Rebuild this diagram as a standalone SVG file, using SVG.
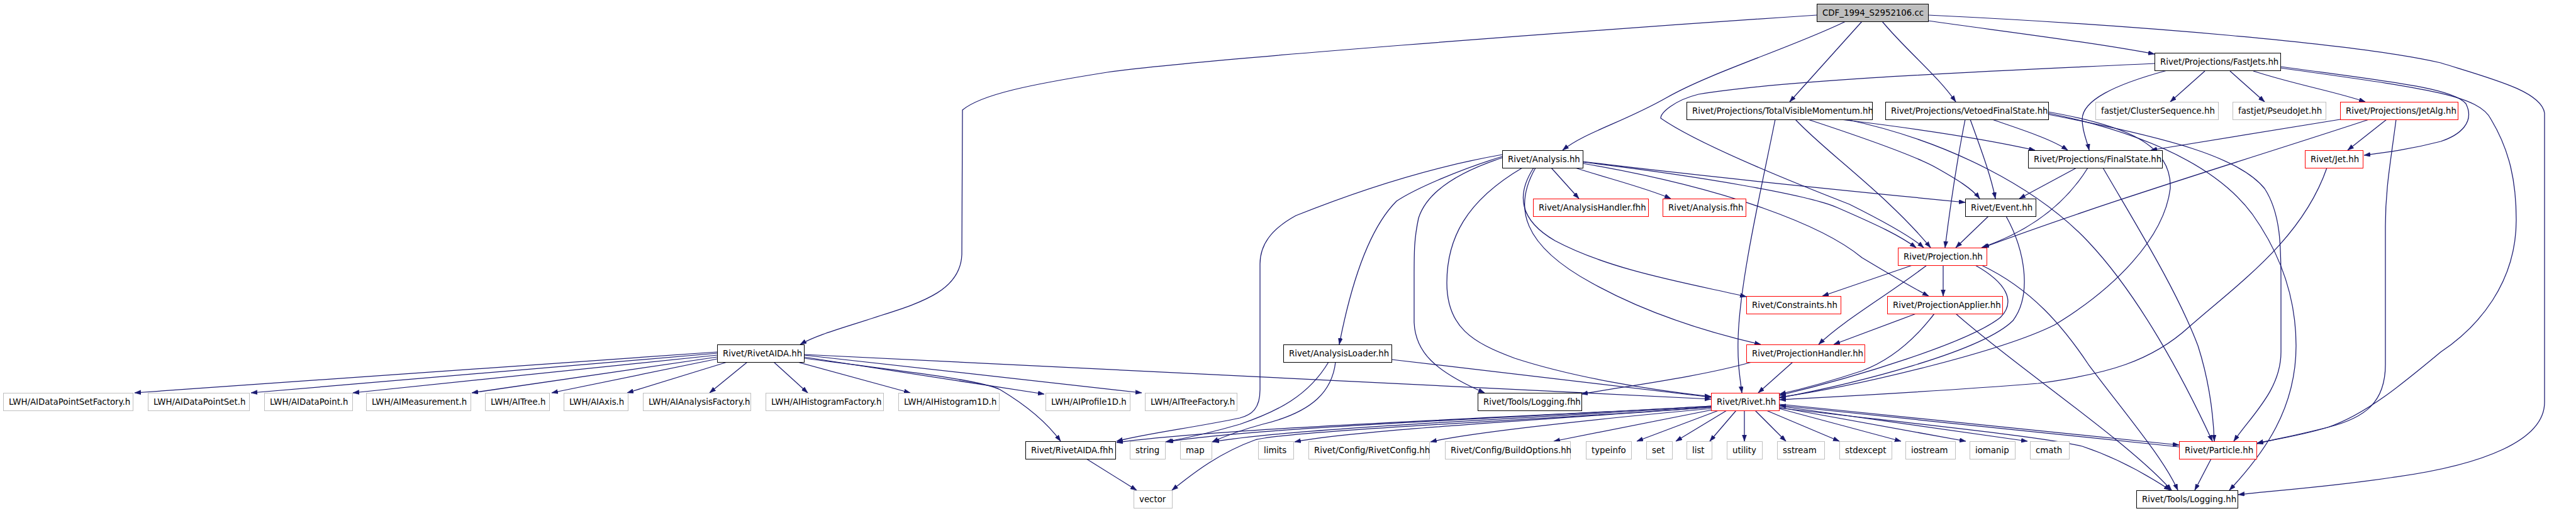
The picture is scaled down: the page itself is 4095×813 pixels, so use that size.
<svg xmlns="http://www.w3.org/2000/svg" width="4095" height="813" viewBox="0 0 4095 813">
<style>
.n rect{fill:#ffffff;stroke-width:1}
.k rect{stroke:#000000}
.r rect{stroke:#ff0000}
.g rect{stroke:#bfbfbf}
.n text{font-family:"DejaVu Sans","Liberation Sans",sans-serif;font-size:13.33px;fill:#000000}
.e path{fill:none;stroke:#191970;stroke-width:1.25;marker-end:url(#a)}
</style>
<defs>
<marker id="a" markerUnits="userSpaceOnUse" markerWidth="11" markerHeight="8" refX="10" refY="3.5" orient="auto">
<path d="M0,0 L10,3.5 L0,7 Z" fill="#191970" stroke="#191970" stroke-width="0.5"/>
</marker>
</defs>
<rect x="0" y="0" width="4095" height="813" fill="#ffffff"/>
<g id="edges" class="e">
<path d="M2888,24 C2500,50 1900,95 1760,115 C1640,134 1560,150 1530,175 L1529,405 C1527,460 1470,480 1400,502 C1340,522 1300,532 1272,548"/>
<path d="M2934,34 C2850,75 2720,115 2650,155 C2580,195 2520,210 2484,239"/>
<path d="M2960,34 L2845,162"/>
<path d="M2992,34 C3030,80 3080,120 3109,162"/>
<path d="M3065,33 C3200,52 3330,68 3425,86"/>
<path d="M3065,24 C3400,40 3750,70 3880,100 C3960,125 4040,145 4045,180 L4045,640 C4045,700 3950,740 3800,760 C3700,775 3620,780 3558,787"/>
<path d="M3425,101 C3200,112 2850,125 2700,150 C2660,160 2640,180 2640,188 C2700,230 2850,290 2940,325 C3000,355 3040,378 3058,394"/>
<path d="M3445,112 C3360,135 3310,160 3310,190 C3310,210 3318,225 3321,239"/>
<path d="M3505,113 L3450,162"/>
<path d="M3545,113 L3600,162"/>
<path d="M3582,113 C3650,135 3710,145 3760,162"/>
<path d="M3625,106 C3800,130 3900,140 3920,165 C3935,195 3910,215 3880,225 C3830,238 3790,243 3758,247"/>
<path d="M3625,108 C3850,140 3940,150 3960,190 C3990,240 4000,290 4000,350 C4000,450 3940,520 3880,560 C3820,610 3760,660 3700,680 C3650,695 3610,700 3588,705"/>
<path d="M3720,190 C3600,210 3500,225 3419,239"/>
<path d="M3766,190 C3600,245 3350,320 3152,394"/>
<path d="M3794,190 L3732,239"/>
<path d="M3809,190 C3800,260 3792,300 3792,360 L3792,580 C3792,640 3760,665 3700,680 C3640,695 3610,700 3588,706"/>
<path d="M3699,267 C3660,380 3560,450 3480,520 C3420,575 3350,595 3240,610 C3050,625 2900,632 2829,636"/>
<path d="M3040,422 L2897,471"/>
<path d="M3089,422 L3089,471"/>
<path d="M3063,422 C3000,470 2930,510 2891,548"/>
<path d="M3140,422 C3190,450 3205,480 3180,505 C3130,545 2950,600 2829,629"/>
<path d="M3150,422 C3230,460 3280,520 3320,580 C3380,660 3440,730 3462,780"/>
<path d="M3046,499 L2915,548"/>
<path d="M3075,499 C3040,545 3000,575 2960,590 C2900,610 2860,620 2829,627"/>
<path d="M3109,499 C3200,580 3380,700 3452,780"/>
<path d="M2850,576 L2795,625"/>
<path d="M2785,576 C2700,600 2580,615 2514,627"/>
<path d="M2466,267 L2510,316"/>
<path d="M2504,267 C2560,285 2620,300 2656,316"/>
<path d="M2516,257 C2700,280 2950,305 3124,322"/>
<path d="M2516,258 C2700,280 2874,310 2920,330 C2989,360 3020,375 3046,394"/>
<path d="M2516,260 C2750,300 2900,360 2960,410 C3010,440 3045,460 3066,471"/>
<path d="M2438,267 C2410,310 2415,350 2472,383 C2560,430 2680,450 2776,472"/>
<path d="M2441,267 C2405,330 2420,390 2530,450 C2620,500 2720,530 2799,548"/>
<path d="M2420,267 C2330,320 2300,380 2300,450 C2300,520 2340,545 2408,570 C2500,600 2620,620 2720,631"/>
<path d="M2388,251 C2330,270 2270,300 2255,347 C2248,380 2248,400 2248,440 L2248,513 C2250,560 2280,590 2360,625"/>
<path d="M2388,246 C2250,270 2130,315 2060,343 C2020,365 2003,390 2003,420 L2003,620 C2003,650 1990,660 1971,665 C1900,680 1820,690 1775,702"/>
<path d="M2388,249 C2320,270 2250,300 2220,320 C2180,360 2150,440 2129,548"/>
<path d="M2112,576 C2080,630 2030,655 1971,675 C1920,690 1880,698 1853,703"/>
<path d="M2123,576 C2118,620 2090,655 2007,675 C1970,685 1945,695 1927,703"/>
<path d="M2212,572 L2720,632"/>
<path d="M1140,560 L214,625"/>
<path d="M1140,562 L399,625"/>
<path d="M1140,565 L561,625"/>
<path d="M1140,568 L750,625"/>
<path d="M1140,571 L877,625"/>
<path d="M1156,576 L997,625"/>
<path d="M1188,576 L1128,625"/>
<path d="M1230,576 L1284,625"/>
<path d="M1268,576 L1447,625"/>
<path d="M1278,568 L1660,627"/>
<path d="M1278,565 L1815,625"/>
<path d="M1278,570 C1450,592 1560,605 1590,620 C1640,650 1670,680 1686,702"/>
<path d="M1278,564 L2720,635"/>
<path d="M1727,730 L1807,780"/>
<path d="M2720,646 C2400,665 1950,680 1775,704"/>
<path d="M2720,646 C2400,665 2000,680 1855,703"/>
<path d="M2720,647 C2400,667 2050,682 1928,703"/>
<path d="M2720,648 C2450,668 2150,685 2058,703"/>
<path d="M2720,648 C2450,668 2050,685 1995,700 C1940,720 1900,750 1863,780"/>
<path d="M2720,650 C2500,670 2330,690 2274,703"/>
<path d="M2722,652 L2470,702"/>
<path d="M2732,653 L2602,702"/>
<path d="M2745,653 L2664,702"/>
<path d="M2760,653 L2718,702"/>
<path d="M2773,653 L2773,702"/>
<path d="M2790,653 L2839,702"/>
<path d="M2808,653 L2924,702"/>
<path d="M2828,650 L3022,702"/>
<path d="M2828,648 L3125,702"/>
<path d="M2828,646 L3223,702"/>
<path d="M2828,643 L3464,708"/>
<path d="M3464,711 L2829,645"/>
<path d="M2828,649 C3050,675 3250,695 3310,710 C3370,730 3420,760 3450,780"/>
<path d="M3515,730 L3489,780"/>
<path d="M2822,190 C2800,300 2765,450 2763,540 C2762,580 2766,600 2769,625"/>
<path d="M2854,190 C2900,240 3000,310 3069,394"/>
<path d="M2874,190 C2950,215 3046,248 3080,268 C3110,285 3135,300 3147,316"/>
<path d="M2926,190 C3050,205 3150,220 3235,239"/>
<path d="M2935,190 C3100,225 3240,300 3320,385 C3400,470 3470,600 3517,702"/>
<path d="M3167,190 C3200,202 3260,220 3287,239"/>
<path d="M3132,190 C3150,240 3165,280 3172,316"/>
<path d="M3124,190 C3110,260 3100,330 3092,394"/>
<path d="M3256,178 C3380,200 3453,230 3450,300 C3440,380 3360,460 3266,517 C3180,560 2950,615 2829,632"/>
<path d="M3256,180 C3400,210 3520,260 3580,340 C3630,410 3650,480 3650,550 C3650,650 3600,720 3544,780"/>
<path d="M3256,182 C3450,220 3560,250 3600,300 C3626,340 3626,393 3626,450 L3626,560 C3626,620 3580,660 3551,702"/>
<path d="M3319,267 C3280,330 3220,370 3150,394"/>
<path d="M3301,267 L3210,316"/>
<path d="M3343,267 C3391,350 3460,460 3494,550 C3510,600 3518,650 3520,702"/>
<path d="M3161,344 L3109,394"/>
<path d="M3189,344 C3220,400 3230,470 3200,510 C3150,560 2950,610 2829,633"/>
</g>
<g id="n_cdf" class="n k"><rect x="2888.5" y="6.5" width="177" height="28" style="fill:#bfbfbf"/><text x="2897" y="25">CDF_1994_S2952106.cc</text></g>
<g id="n_fastjets" class="n k"><rect x="3425.5" y="84.5" width="200" height="28"/><text x="3434" y="103">Rivet/Projections/FastJets.hh</text></g>
<g id="n_tvm" class="n k"><rect x="2681.5" y="162.5" width="295" height="28"/><text x="2690" y="181">Rivet/Projections/TotalVisibleMomentum.hh</text></g>
<g id="n_vfs" class="n k"><rect x="2997.5" y="162.5" width="259" height="28"/><text x="3006" y="181">Rivet/Projections/VetoedFinalState.hh</text></g>
<g id="n_cluster" class="n g"><rect x="3331.5" y="162.5" width="195" height="28"/><text x="3340" y="181">fastjet/ClusterSequence.hh</text></g>
<g id="n_pseudo" class="n g"><rect x="3549.5" y="162.5" width="148" height="28"/><text x="3558" y="181">fastjet/PseudoJet.hh</text></g>
<g id="n_jetalg" class="n r"><rect x="3720.5" y="162.5" width="187" height="28"/><text x="3729" y="181">Rivet/Projections/JetAlg.hh</text></g>
<g id="n_analysis" class="n k"><rect x="2388.5" y="239.5" width="128" height="28"/><text x="2397" y="258">Rivet/Analysis.hh</text></g>
<g id="n_finalstate" class="n k"><rect x="3224.5" y="239.5" width="213" height="28"/><text x="3233" y="258">Rivet/Projections/FinalState.hh</text></g>
<g id="n_jet" class="n r"><rect x="3664.5" y="239.5" width="92" height="28"/><text x="3673" y="258">Rivet/Jet.hh</text></g>
<g id="n_ahfhh" class="n r"><rect x="2437.5" y="316.5" width="183" height="28"/><text x="2446" y="335">Rivet/AnalysisHandler.fhh</text></g>
<g id="n_afhh" class="n r"><rect x="2643.5" y="316.5" width="132" height="28"/><text x="2652" y="335">Rivet/Analysis.fhh</text></g>
<g id="n_event" class="n k"><rect x="3124.5" y="316.5" width="112" height="28"/><text x="3133" y="335">Rivet/Event.hh</text></g>
<g id="n_projection" class="n r"><rect x="3017.5" y="394.5" width="141" height="28"/><text x="3026" y="413">Rivet/Projection.hh</text></g>
<g id="n_constraints" class="n r"><rect x="2776.5" y="471.5" width="150" height="28"/><text x="2785" y="490">Rivet/Constraints.hh</text></g>
<g id="n_papplier" class="n r"><rect x="3000.5" y="471.5" width="183" height="28"/><text x="3009" y="490">Rivet/ProjectionApplier.hh</text></g>
<g id="n_rivetaida" class="n k"><rect x="1140.5" y="548.5" width="138" height="28"/><text x="1149" y="567">Rivet/RivetAIDA.hh</text></g>
<g id="n_aloader" class="n k"><rect x="2040.5" y="548.5" width="172" height="28"/><text x="2049" y="567">Rivet/AnalysisLoader.hh</text></g>
<g id="n_phandler" class="n r"><rect x="2776.5" y="548.5" width="188" height="28"/><text x="2785" y="567">Rivet/ProjectionHandler.hh</text></g>
<g id="n_lwh1" class="n g"><rect x="5.5" y="625.5" width="206" height="28"/><text x="14" y="644">LWH/AIDataPointSetFactory.h</text></g>
<g id="n_lwh2" class="n g"><rect x="235.5" y="625.5" width="161" height="28"/><text x="244" y="644">LWH/AIDataPointSet.h</text></g>
<g id="n_lwh3" class="n g"><rect x="420.5" y="625.5" width="140" height="28"/><text x="429" y="644">LWH/AIDataPoint.h</text></g>
<g id="n_lwh4" class="n g"><rect x="582.5" y="625.5" width="166" height="28"/><text x="591" y="644">LWH/AIMeasurement.h</text></g>
<g id="n_lwh5" class="n g"><rect x="771.5" y="625.5" width="102" height="28"/><text x="780" y="644">LWH/AITree.h</text></g>
<g id="n_lwh6" class="n g"><rect x="896.5" y="625.5" width="102" height="28"/><text x="905" y="644">LWH/AIAxis.h</text></g>
<g id="n_lwh7" class="n g"><rect x="1022.5" y="625.5" width="171" height="28"/><text x="1031" y="644">LWH/AIAnalysisFactory.h</text></g>
<g id="n_lwh8" class="n g"><rect x="1217.5" y="625.5" width="187" height="28"/><text x="1226" y="644">LWH/AIHistogramFactory.h</text></g>
<g id="n_lwh9" class="n g"><rect x="1428.5" y="625.5" width="160" height="28"/><text x="1437" y="644">LWH/AIHistogram1D.h</text></g>
<g id="n_lwh10" class="n g"><rect x="1662.5" y="625.5" width="134" height="28"/><text x="1671" y="644">LWH/AIProfile1D.h</text></g>
<g id="n_lwh11" class="n g"><rect x="1820.5" y="625.5" width="146" height="28"/><text x="1829" y="644">LWH/AITreeFactory.h</text></g>
<g id="n_logfhh" class="n k"><rect x="2349.5" y="625.5" width="165" height="28"/><text x="2358" y="644">Rivet/Tools/Logging.fhh</text></g>
<g id="n_rivet" class="n r"><rect x="2720.5" y="625.5" width="108" height="28"/><text x="2729" y="644">Rivet/Rivet.hh</text></g>
<g id="n_aidafhh" class="n k"><rect x="1630.5" y="702.5" width="143" height="28"/><text x="1639" y="721">Rivet/RivetAIDA.fhh</text></g>
<g id="n_string" class="n g"><rect x="1796.5" y="702.5" width="56" height="28"/><text x="1805" y="721">string</text></g>
<g id="n_map" class="n g"><rect x="1876.5" y="702.5" width="50" height="28"/><text x="1885" y="721">map</text></g>
<g id="n_limits" class="n g"><rect x="2000.5" y="702.5" width="56" height="28"/><text x="2009" y="721">limits</text></g>
<g id="n_rconfig" class="n g"><rect x="2080.5" y="702.5" width="192" height="28"/><text x="2089" y="721">Rivet/Config/RivetConfig.hh</text></g>
<g id="n_bopts" class="n g"><rect x="2297.5" y="702.5" width="199" height="28"/><text x="2306" y="721">Rivet/Config/BuildOptions.hh</text></g>
<g id="n_typeinfo" class="n g"><rect x="2521.5" y="702.5" width="72" height="28"/><text x="2530" y="721">typeinfo</text></g>
<g id="n_set" class="n g"><rect x="2617.5" y="702.5" width="41" height="28"/><text x="2626" y="721">set</text></g>
<g id="n_list" class="n g"><rect x="2681.5" y="702.5" width="40" height="28"/><text x="2690" y="721">list</text></g>
<g id="n_utility" class="n g"><rect x="2745.5" y="702.5" width="56" height="28"/><text x="2754" y="721">utility</text></g>
<g id="n_sstream" class="n g"><rect x="2825.5" y="702.5" width="75" height="28"/><text x="2834" y="721">sstream</text></g>
<g id="n_stdexcept" class="n g"><rect x="2924.5" y="702.5" width="83" height="28"/><text x="2933" y="721">stdexcept</text></g>
<g id="n_iostream" class="n g"><rect x="3029.5" y="702.5" width="79" height="28"/><text x="3038" y="721">iostream</text></g>
<g id="n_iomanip" class="n g"><rect x="3131.5" y="702.5" width="72" height="28"/><text x="3140" y="721">iomanip</text></g>
<g id="n_cmath" class="n g"><rect x="3227.5" y="702.5" width="62" height="28"/><text x="3236" y="721">cmath</text></g>
<g id="n_particle" class="n r"><rect x="3464.5" y="702.5" width="123" height="28"/><text x="3473" y="721">Rivet/Particle.hh</text></g>
<g id="n_vector" class="n g"><rect x="1802.5" y="780.5" width="61" height="28"/><text x="1811" y="799">vector</text></g>
<g id="n_logging" class="n k"><rect x="3396.5" y="780.5" width="161" height="28"/><text x="3405" y="799">Rivet/Tools/Logging.hh</text></g>
</svg>
